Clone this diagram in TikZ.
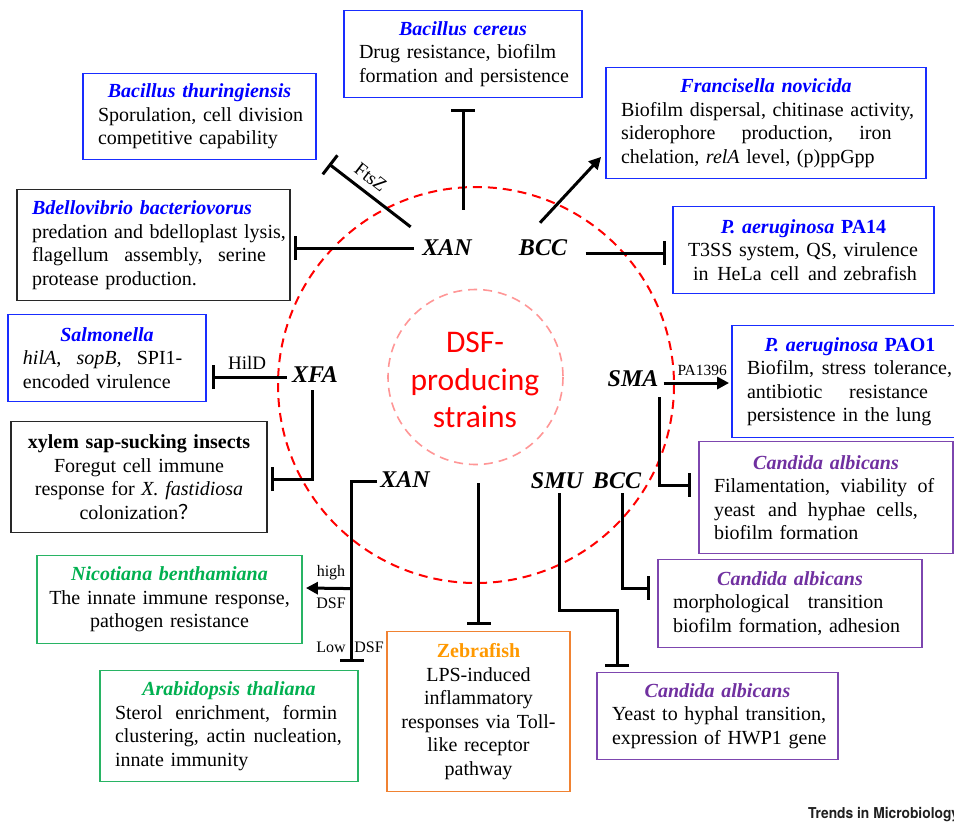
\documentclass[tikz,border=0pt]{standalone}
\usepackage{fontspec}
\setmainfont{Liberation Serif}
\newfontfamily\calibri{Carlito}
\newfontfamily\heros{TeX Gyre Heros}
\newfontfamily\cjk{Noto Sans CJK SC}
\usetikzlibrary{arrows.meta,calc}
\setlength{\parindent}{0pt}
\definecolor{tblue}{RGB}{0,0,255}
\definecolor{bblue}{RGB}{25,45,255}
\definecolor{tgreen}{RGB}{0,176,80}
\definecolor{bgreen}{RGB}{40,180,100}
\definecolor{torange}{RGB}{255,153,0}
\definecolor{borange}{RGB}{240,130,50}
\definecolor{tpurple}{RGB}{112,48,160}
\definecolor{bpurple}{RGB}{125,70,175}
\definecolor{dsfred}{RGB}{255,0,0}
\definecolor{pinkc}{RGB}{255,150,150}
\definecolor{bgray}{RGB}{40,40,40}
\newcommand{\ttl}[1]{\makebox[\hsize][c]{\bfseries\itshape #1}}
\newcommand{\jl}[2][\hsize]{\makebox[#1][l]{#2}}
\newcommand{\ml}[1]{\mbox{#1}}
\newcommand{\hf}{\hspace{0pt plus 1fil}}
\begin{document}
\begin{tikzpicture}[x=1pt,y=-1pt,
  box/.style={draw, line width=1.8pt, inner xsep=15pt, inner ysep=0pt, align=left,
    font=\fontsize{20}{23.5}\selectfont},
  cbox/.style={inner xsep=5pt, align=center},
  bluebox/.style={box, draw=bblue},
  blackbox/.style={box, draw=bgray, line width=1.5pt},
  greenbox/.style={box, draw=bgreen},
  orangebox/.style={box, draw=borange},
  purplebox/.style={box, draw=bpurple},
  strain/.style={font=\fontsize{24}{28}\selectfont\bfseries\itshape, inner sep=2pt},
  inh/.style={line width=3pt, -{Bar[width=24pt]}},
  act/.style={line width=3pt, -{Triangle[length=12pt,width=12pt]}},
  lbl/.style={font=\fontsize{16}{18}\selectfont, inner sep=1pt}
]
\useasboundingbox (0,0) rectangle (954,823);
\fill[white] (0,0) rectangle (954,823);

% circles
\draw[dsfred, line width=2pt, dash pattern=on 9pt off 6pt] (476,385) circle[radius=198];
\draw[pinkc, line width=1.6pt, dash pattern=on 9pt off 6pt] (475.5,377) circle[radius=87.5];
\node[font=\calibri\fontsize{31.5}{37.5}\selectfont, text=dsfred, align=center] (dsf) at (475,380) {DSF-\\producing\\strains};

% boxes
\node[bluebox, text width=208pt, minimum height=87pt] (cereus) at (463,54)
  {\ttl{\color{tblue}Bacillus cereus}\\\ml{Drug resistance, biofilm}\\\ml{formation and persistence}};
\node[bluebox, text width=203pt, minimum height=86pt] (thur) at (199.5,116.5)
  {\ttl{\color{tblue}Bacillus thuringiensis}\\\ml{Sporulation, cell division}\\\ml{competitive capability}};
\node[blackbox, text width=243pt, minimum height=111pt] (bdello) at (153.5,245)
  {\ml{\bfseries\itshape\color{tblue}Bdellovibrio bacteriovorus}\\\ml{predation and bdelloplast lysis,}\\\jl{flagellum\hf{} assembly,\hf{} serine}\\\ml{protease production.}};
\node[bluebox, text width=168pt, minimum height=87pt] (salm) at (107,358)
  {\ttl{\color{tblue}Salmonella}\\\jl{\textit{hilA},\hf{} \textit{sopB,}\hf{} SPI1-}\\\ml{encoded virulence}};
\node[blackbox, cbox, text width=246pt, minimum height=111pt] (xylem) at (139,477)
  {\textbf{xylem sap-sucking insects}\\Foregut cell immune\\response for \textit{X. fastidiosa}\\colonization{\cjk ？}};
\node[greenbox, cbox, text width=255pt, minimum height=88pt] (nico) at (169.5,599.5)
  {{\bfseries\itshape\color{tgreen}Nicotiana benthamiana}\\The innate immune response,\\pathogen resistance};
\node[greenbox, text width=228pt, minimum height=111pt] (arab) at (229,726)
  {\ttl{\color{tgreen}Arabidopsis thaliana}\\\jl{Sterol\hf{} enrichment,\hf{} formin}\\\jl{clustering,\hf{} actin\hf{} nucleation,}\\\ml{innate immunity}};
\node[orangebox, cbox, text width=173pt, minimum height=160pt] (zebra) at (478.5,711.5)
  {{\bfseries\color{torange}Zebrafish}\\LPS-induced\\inflammatory\\responses via Toll-\\like receptor\\pathway};
\node[purplebox, text width=211pt, minimum height=87pt] (cand3) at (717.5,716)
  {\ttl{\color{tpurple}Candida albicans}\\\ml{Yeast to hyphal transition,}\\\ml{expression of HWP1 gene}};
\node[purplebox, text width=234pt, minimum height=88pt] (cand2) at (790,603.5)
  {\ttl{\color{tpurple}Candida albicans}\\\jl[222pt]{morphological\hf{} transition}\\\ml{biofilm formation, adhesion}};
\node[purplebox, text width=224pt, minimum height=112pt] (cand1) at (826,497.5)
  {\ttl{\color{tpurple}Candida albicans}\\\jl{Filamentation,\hf{} viability\hf{} of}\\\jl[208pt]{yeast\hspace{0pt plus 1.6fil} and\hf{} hyphae\hf{} cells,}\\\ml{biofilm formation}};
\node[bluebox, text width=206pt, minimum height=112pt] (pao1) at (850,381.5)
  {\ttl{\color{tblue}\textit{P. aeruginosa} \textup{PAO1}}\\\jl{Biofilm,\hf{} stress\hf{} tolerance,}\\\jl[201pt]{antibiotic\hf{} resistance}\\\ml{persistence in the lung}};
\node[bluebox, text width=231pt, minimum height=87pt] (pa14) at (803.5,250)
  {\ttl{\color{tblue}\textit{P. aeruginosa} \textup{PA14}}\\\ml{T3SS system, QS, virulence}\\\hspace*{5pt}\jl[226pt]{in\hf{} HeLa\hf{} cell\hf{} and zebrafish}};
\node[bluebox, text width=290pt, minimum height=111pt] (fran) at (766,123)
  {\ttl{\color{tblue}Francisella novicida}\\\jl{Biofilm\hf{} dispersal,\hf{} chitinase\hf{} activity,}\\\jl{siderophore\hf{} production,\hf{} iron}\\\ml{chelation, \textit{relA} level, (p)ppGpp}};

% strains
\node[strain] (xanT) at (447,248) {XAN};
\node[strain] (bccT) at (543,248) {BCC};
\node[strain] (xfa) at (315,375) {XFA};
\node[strain] (sma) at (633,379) {SMA};
\node[strain] (xanB) at (405,480) {XAN};
\node[strain] (smu) at (557,481) {SMU};
\node[strain] (bccB) at (617,481) {BCC};

% connectors: XAN top
\draw[inh] ([xshift=-9.5pt,yshift=11pt]xanT.north west) -- ($(thur.south east)+(12,3.5)$)
  node[pos=0.6, rotate=-38, anchor=south, inner ysep=7pt, inner xsep=0pt, font=\fontsize{19}{22}\selectfont] (ftsz) {FtsZ};
\draw[inh] ([xshift=16pt,yshift=28pt]xanT.north) -- ([yshift=-10.5pt]cereus.south);
\draw[inh] ([xshift=-6pt]xanT.west) -- ($(xanT.west -| bdello.east)+(3,0)$);

% BCC top
\draw[act] ([xshift=-3pt,yshift=15pt]bccT.north) -- ($(fran.south west)+(-4,-22.5)$);
\draw[inh] ($(bccT.east)+(16.5,5)$) -- ($(bccT.east -| pa14.west)+(-6,5)$);

% XFA
\draw[inh] ($(xfa.west)+(-3,2)$) -- ($(xfa.west -| salm.east)+(5,2)$)
  node[pos=0.53, above, inner sep=6pt, font=\fontsize{19}{22}\selectfont] (hild) {HilD};
\draw[inh] ($(xfa.south)+(-3,5)$) |- ($(xylem.east)+(3,2)$);

% SMA
\draw[act] ($(sma.east)+(3,4)$) -- ($(sma.east -| pao1.west)+(-2,4)$)
  node[pos=0.59, above, inner sep=6pt, font=\fontsize{15.5}{18}\selectfont] (pa1396) {PA1396};
\draw[inh] ($(sma.south)+(26,8)$) |- ($(cand1.west)+(-7,-12.5)$);

% bottom BCC and SMU
\draw[inh] ($(bccB.south)+(5,2)$) |- ($(cand2.west)+(-7,-15.5)$);
\draw[inh] ($(smu.south)+(2,2)$) -- ++(0,117) -| ($(cand3.north west)+(21,-5)$);

% centre to zebrafish
\coordinate (zstart) at (478.5,483);
\draw[inh] (zstart) -- ([yshift=6pt]zebra.north);

% XAN bottom
\draw[inh] ($(xanB.west)+(-1,1)$) -| ($(arab.north east)+(-7,-8)$);
\draw[act] ($(arab.north east)+(-7,-81)$) -- ($(nico.east)+(3,-11.5)$);
\node[lbl] (high) at (331,573) {high};
\node[lbl] (dsfa) at (331,603) {DSF};
\node[lbl] (low) at (331,647) {Low};
\node[lbl] (dsfb) at (369,647) {DSF};

% logo
\node[anchor=west, inner sep=0pt, font=\heros\bfseries\fontsize{15}{18}\selectfont, text=black!88] (logo) at (808,815)
  {\scalebox{0.92}[1]{Trends in Microbiology}};
\end{tikzpicture}
\end{document}
